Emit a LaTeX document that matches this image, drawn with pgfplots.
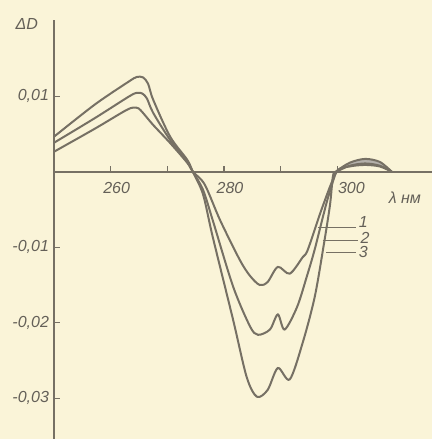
\documentclass[border=0pt]{standalone}
\usepackage{fontspec}
\setmainfont{Liberation Sans}
\usepackage{pgfplots}
\pgfplotsset{compat=1.18}
\definecolor{bg}{RGB}{250,244,216}
\definecolor{ink}{RGB}{118,112,100}
\definecolor{txt}{RGB}{100,96,88}
\begin{document}
\begin{tikzpicture}
\fill[bg] (-27pt,0pt) rectangle (189pt,219.5pt);
\begin{axis}[name=ax, at={(0pt,0pt)}, anchor=south west, scale only axis, width=189pt, height=209.5pt,
  xmin=250, xmax=316.7, ymin=-0.0354, ymax=0.0201,
  axis x line=middle, axis y line=left,
  axis line style={ink, line width=0.8pt, -},
  xtick={260,270,280,290,300}, xticklabels={260,,280,,\hspace*{8pt}300},
  ytick={-0.03,-0.02,-0.01,0.01},
  yticklabels={{-0,03},{-0,02},{-0,01},{0,01}},
  scaled y ticks=false, scaled x ticks=false,
  tick align=inside, major tick length=3pt,
  tick style={ink, line width=0.6pt},
  ticklabel style={font=\footnotesize\itshape, text=txt},
  xticklabel style={xshift=3pt, yshift=-2pt},
  yticklabel style={xshift=1pt},
  clip=false,
]
\addplot[fill=ink!55, draw=none, smooth, tension=0.4] coordinates {
(299.7,0) (302.2,0.0012) (304.9,0.0017) (307.5,0.0013) (309.6,0)
(307.5,0.0007) (304.9,0.0009) (302.2,0.0007) (299.9,0)
} -- cycle;
\addplot[ink, line width=1pt, smooth, tension=0.5] coordinates {
(250.0,0.00464) (257.2,0.0089) (263.1,0.0119) (264.6,0.01255) (265.7,0.01250) (266.6,0.01166) (267.5,0.00954)
(270.5,0.00464) (273.5,0.00159) (274.5,0) (276.3,-0.0030) (278.0,-0.0086)
(281.6,-0.0196) (284.0,-0.0272) (285.8,-0.0298) (287.7,-0.0289) (289.5,-0.0260)
(291.6,-0.0275) (293.9,-0.0226) (296.0,-0.0166) (297.6,-0.0097) (298.7,-0.0044)
(299.2,-0.0007) (299.7,0) (302.2,0.0012) (304.9,0.0017) (307.5,0.0013) (309.6,0)
};
\addplot[ink, line width=1pt, smooth, tension=0.5] coordinates {
(250.0,0.00384) (257.2,0.0071) (263.3,0.0100) (264.7,0.01046) (265.6,0.01035) (266.4,0.0097) (267.5,0.0078)
(270.5,0.0042) (273.5,0.0013) (274.5,0) (276.3,-0.0024) (278.0,-0.0064)
(281.6,-0.0152) (284.6,-0.0205) (286.0,-0.0216) (288.1,-0.0209) (289.5,-0.0189)
(290.7,-0.0209) (292.9,-0.0179) (294.6,-0.0139) (296.0,-0.0103) (298.1,-0.0041)
(299.6,-0.0004) (299.9,0) (302.2,0.0008) (304.9,0.0011) (307.5,0.0008) (309.6,0)
};
\addplot[ink, line width=1pt, smooth, tension=0.5] coordinates {
(250.0,0.00265) (257.2,0.0057) (262.6,0.0081) (264.0,0.0085) (264.9,0.0084) (265.7,0.0078) (267.5,0.0062)
(270.5,0.0038) (273.5,0.0012) (274.5,0) (276.6,-0.0017) (279.3,-0.0064)
(282.8,-0.0117) (284.6,-0.0138) (286.3,-0.0150) (287.7,-0.0146) (289.5,-0.0126)
(291.6,-0.0135) (293.9,-0.0113) (294.8,-0.0103) (297.4,-0.0046) (299.9,0)
(302.2,0.0007) (304.9,0.0009) (307.5,0.0007) (309.6,0)
};
% labels of the curves
\draw[ink, line width=0.5pt] (axis cs:296.6,-0.0074) -- (axis cs:303.3,-0.0074);
\draw[ink, line width=0.5pt] (axis cs:297.4,-0.0091) -- (axis cs:303.6,-0.0091);
\draw[ink, line width=0.5pt] (axis cs:298.0,-0.0107) -- (axis cs:303.3,-0.0107);
\node[font=\footnotesize\itshape, text=txt] at (axis cs:304.6,-0.0067) {1};
\node[font=\footnotesize\itshape, text=txt] at (axis cs:304.9,-0.0087) {2};
\node[font=\footnotesize\itshape, text=txt] at (axis cs:304.6,-0.0106) {3};
\node[font=\footnotesize\itshape, text=txt] at (axis cs:311.9,-0.0035) {λ нм};
\node[font=\footnotesize\itshape, text=txt] at (axis cs:245.2,0.0196) {ΔD};
\end{axis}
\pgfresetboundingbox
\path[use as bounding box] (-27pt,0pt) rectangle (189pt,219.5pt);
\end{tikzpicture}
\end{document}
